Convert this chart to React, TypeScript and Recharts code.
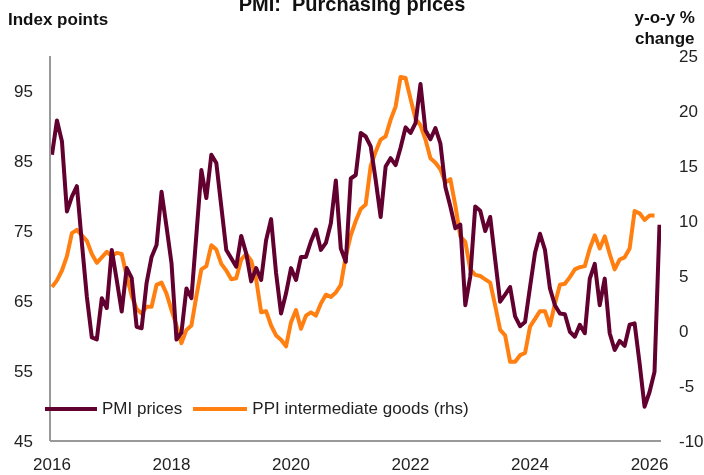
import React from 'react'
import { LineChart, Line, XAxis, YAxis } from 'recharts'

// monthly, Jan 2016 onwards
const pmiPrices = [
    85.9, 90.8, 87.8, 77.8, 79.9, 81.4, 73.3, 65.6, 59.8, 59.5, 65.4, 64.0,
    72.3, 68.0, 63.5, 69.7, 68.3, 61.3, 61.1, 67.6, 71.3, 73.0, 80.6, 75.6,
    70.4, 59.5, 60.5, 66.8, 65.4, 74.5, 83.7, 79.7, 85.9, 84.7, 78.5, 72.3,
    71.1, 69.9, 74.3, 71.8, 67.8, 69.7, 68.0, 73.7, 76.7, 69.0, 63.2, 66.1,
    69.7, 68.0, 71.3, 71.3, 73.5, 75.2, 72.3, 73.3, 76.1, 82.2, 72.5, 70.6,
    82.5, 83.0, 89.0, 88.5, 87.1, 82.3, 77.0, 84.2, 85.4, 84.4, 86.9, 89.8,
    89.0, 90.4, 96.0, 89.4, 88.1, 89.7, 87.5, 81.3, 78.5, 75.4, 75.9, 64.4,
    68.5, 78.5, 77.9, 75.0, 77.0, 70.9, 64.9, 65.9, 67.0, 62.8, 61.4, 62.0,
    67.0, 71.9, 74.6, 72.3, 66.8, 64.4, 63.2, 63.1, 60.6, 59.9, 61.6, 60.4,
    68.2, 70.3, 64.4, 68.2, 60.4, 58.0, 59.3, 58.6, 61.6, 61.8, 56.1, 49.9,
    52.0, 54.9, 75.9
]

const ppiIntermediate = [
    4.0, 4.6, 5.5, 6.8, 8.9, 9.2, 8.7, 8.2, 7.0, 6.2, 6.7, 7.2,
    6.8, 7.1, 7.0, 5.0, 3.2, 2.0, 1.6, 2.2, 2.2, 4.2, 4.4, 3.4,
    1.9, 0.5, -1.1, 0.1, 0.5, 3.2, 5.6, 5.9, 7.8, 7.4, 6.1, 5.5,
    4.7, 4.8, 6.5, 7.0, 6.4, 4.7, 1.7, 1.8, 0.5, -0.4, -0.8, -1.4,
    0.8, 1.9, 0.2, 1.4, 1.7, 1.4, 2.5, 3.3, 3.1, 3.5, 4.2, 6.8,
    8.7, 10.0, 11.1, 11.5, 15.0, 16.3, 17.4, 17.7, 19.2, 20.4, 23.1, 23.0,
    21.1, 19.3, 18.7, 17.4, 15.7, 15.3, 14.7, 13.5, 13.8, 11.4, 8.6, 8.1,
    5.6, 5.1, 5.0, 4.7, 4.4, 2.3, 0.1, -0.4, -2.8, -2.8, -2.2, -2.0,
    0.4, 1.1, 1.8, 1.8, 0.5, 2.5, 4.2, 4.3, 4.9, 5.6, 5.8, 5.9,
    7.5, 8.7, 7.5, 8.6, 7.0, 5.6, 6.5, 6.7, 7.5, 10.9, 10.7, 10.1,
    10.5, 10.5
]

const yearLabels = ['2016', '2018', '2020', '2022', '2024', '2026']
const yearTicks = [0, 24, 48, 72, 96, 120]
const leftTicks = [45, 55, 65, 75, 85, 95]
const rightTicks = [-10, -5, 0, 5, 10, 15, 20, 25]

const data = pmiPrices.map((v, i) => ({
    t: i,
    pmi: v,
    ppi: i < ppiIntermediate.length ? ppiIntermediate[i] : null
}))

const PMI_COLOR = '#62002F'
const PPI_COLOR = '#FF7F11'
const FONT = '"Liberation Sans", Arial, sans-serif'

const tickStyle = { fontSize: 17, fill: '#222', fontFamily: FONT }

const App = () => {
    return (
        <div style={{ position: 'fixed', left: 0, top: 0, width: 704, height: 475, background: '#fff' }}>
            <div style={{ position: 'absolute', left: 0, width: 704, top: -7, textAlign: 'center', fontFamily: FONT, fontWeight: 'bold', fontSize: 20, color: '#111' }}>
                PMI:&nbsp; Purchasing prices
            </div>
            <div style={{ position: 'absolute', left: 8, top: 10, fontFamily: FONT, fontWeight: 'bold', fontSize: 17, color: '#111' }}>
                Index points
            </div>
            <div style={{ position: 'absolute', right: 9, top: 7, textAlign: 'center', lineHeight: '21px', fontFamily: FONT, fontWeight: 'bold', fontSize: 17, color: '#111' }}>
                y-o-y %<br />change
            </div>
            <LineChart width={704} height={475} data={data} margin={{ top: 56, right: 0, bottom: 0, left: 0 }}>
                <XAxis
                    dataKey="t"
                    type="number"
                    domain={[-0.4, 122.3]}
                    ticks={yearTicks}
                    tickFormatter={(v: number) => yearLabels[yearTicks.indexOf(v)] ?? ''}
                    allowDataOverflow
                    height={34}
                    tickLine={false}
                    tickSize={0}
                    tickMargin={17}
                    axisLine={{ stroke: '#999', strokeWidth: 2 }}
                    tick={tickStyle}
                />
                <YAxis
                    yAxisId="left"
                    orientation="left"
                    domain={[45, 100]}
                    ticks={leftTicks}
                    width={50}
                    tickLine={false}
                    tickSize={0}
                    tickMargin={17}
                    axisLine={{ stroke: '#999', strokeWidth: 2 }}
                    tick={tickStyle}
                />
                <YAxis
                    yAxisId="right"
                    orientation="right"
                    domain={[-10, 25]}
                    ticks={rightTicks}
                    width={43}
                    tickLine={false}
                    tickSize={0}
                    tickMargin={18}
                    axisLine={false}
                    tick={{ ...tickStyle, textAnchor: 'start' }}
                />
                <Line
                    yAxisId="right"
                    dataKey="ppi"
                    stroke={PPI_COLOR}
                    strokeWidth={4}
                    dot={false}
                    strokeLinejoin="round"
                    isAnimationActive={false}
                    connectNulls={false}
                />
                <Line
                    yAxisId="left"
                    dataKey="pmi"
                    stroke={PMI_COLOR}
                    strokeWidth={4}
                    dot={false}
                    strokeLinejoin="round"
                    isAnimationActive={false}
                />
            </LineChart>
            <div style={{ position: 'absolute', left: 45, top: 399, display: 'flex', alignItems: 'center', fontFamily: FONT, fontSize: 17, color: '#222' }}>
                <span style={{ width: 52, height: 4, background: PMI_COLOR, display: 'inline-block', marginRight: 5 }} />
                <span style={{ marginRight: 11 }}>PMI prices</span>
                <span style={{ width: 54, height: 4, background: PPI_COLOR, display: 'inline-block', marginRight: 5 }} />
                <span>PPI intermediate goods (rhs)</span>
            </div>
        </div>
    )
}

export default App
